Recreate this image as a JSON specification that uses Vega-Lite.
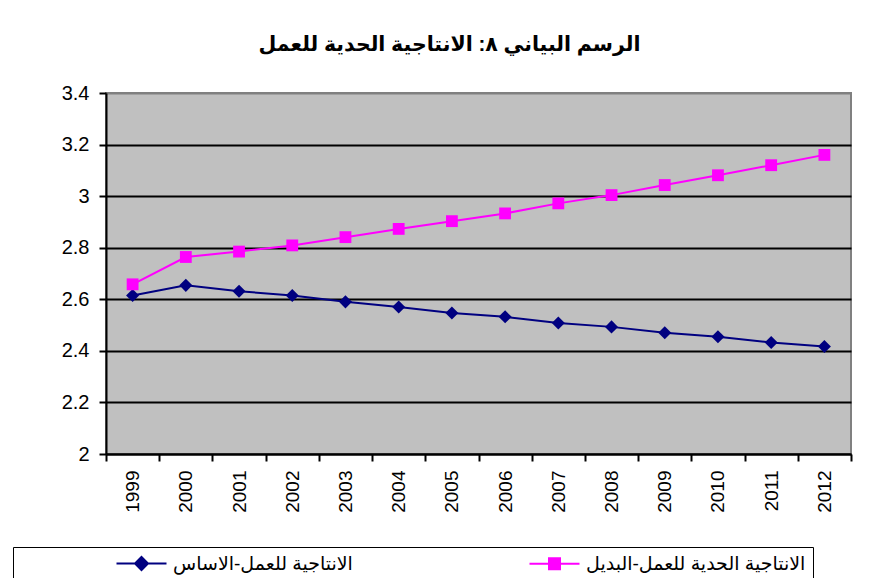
{
  "$schema": "https://vega.github.io/schema/vega-lite/v6.json",
  "autosize": {"type": "none"},
  "padding": {"left": 106, "top": 93, "right": 26, "bottom": 124},
  "width": 745,
  "height": 361,
  "background": "white",
  "title": {
    "text": "الرسم البياني ٨: الانتاجية الحدية للعمل",
    "font": "Liberation Sans, DejaVu Sans",
    "fontSize": 20.5,
    "fontWeight": "bold",
    "color": "black",
    "anchor": "middle",
    "dx": -29,
    "offset": 28
  },
  "config": {
    "view": {"fill": "#C0C0C0", "stroke": "#808080", "strokeWidth": 2},
    "font": "Liberation Sans, DejaVu Sans"
  },
  "data": {
    "values": [
      {"year": "1999", "series": "الانتاجية للعمل-الاساس", "value": 2.615},
      {"year": "2000", "series": "الانتاجية للعمل-الاساس", "value": 2.654},
      {"year": "2001", "series": "الانتاجية للعمل-الاساس", "value": 2.631},
      {"year": "2002", "series": "الانتاجية للعمل-الاساس", "value": 2.615},
      {"year": "2003", "series": "الانتاجية للعمل-الاساس", "value": 2.59},
      {"year": "2004", "series": "الانتاجية للعمل-الاساس", "value": 2.57},
      {"year": "2005", "series": "الانتاجية للعمل-الاساس", "value": 2.547},
      {"year": "2006", "series": "الانتاجية للعمل-الاساس", "value": 2.532},
      {"year": "2007", "series": "الانتاجية للعمل-الاساس", "value": 2.508},
      {"year": "2008", "series": "الانتاجية للعمل-الاساس", "value": 2.493},
      {"year": "2009", "series": "الانتاجية للعمل-الاساس", "value": 2.47},
      {"year": "2010", "series": "الانتاجية للعمل-الاساس", "value": 2.455},
      {"year": "2011", "series": "الانتاجية للعمل-الاساس", "value": 2.432},
      {"year": "2012", "series": "الانتاجية للعمل-الاساس", "value": 2.417},
      {"year": "1999", "series": "الانتاجية الحدية للعمل-البديل", "value": 2.658},
      {"year": "2000", "series": "الانتاجية الحدية للعمل-البديل", "value": 2.764},
      {"year": "2001", "series": "الانتاجية الحدية للعمل-البديل", "value": 2.785},
      {"year": "2002", "series": "الانتاجية الحدية للعمل-البديل", "value": 2.809},
      {"year": "2003", "series": "الانتاجية الحدية للعمل-البديل", "value": 2.841},
      {"year": "2004", "series": "الانتاجية الحدية للعمل-البديل", "value": 2.873},
      {"year": "2005", "series": "الانتاجية الحدية للعمل-البديل", "value": 2.903},
      {"year": "2006", "series": "الانتاجية الحدية للعمل-البديل", "value": 2.933},
      {"year": "2007", "series": "الانتاجية الحدية للعمل-البديل", "value": 2.972},
      {"year": "2008", "series": "الانتاجية الحدية للعمل-البديل", "value": 3.004},
      {"year": "2009", "series": "الانتاجية الحدية للعمل-البديل", "value": 3.043},
      {"year": "2010", "series": "الانتاجية الحدية للعمل-البديل", "value": 3.081},
      {"year": "2011", "series": "الانتاجية الحدية للعمل-البديل", "value": 3.12},
      {"year": "2012", "series": "الانتاجية الحدية للعمل-البديل", "value": 3.16}
    ]
  },
  "encoding": {
    "x": {
      "field": "year",
      "type": "ordinal",
      "scale": {"type": "band", "paddingInner": 0, "paddingOuter": 0},
      "axis": {
        "title": null,
        "labelAngle": 270,
        "labelFontSize": 19,
        "labelColor": "black",
        "labelPadding": 9,
        "tickBand": "extent",
        "tickColor": "black",
        "tickSize": 7,
        "tickWidth": 2,
        "domainColor": "black",
        "domainWidth": 2,
        "grid": false
      }
    },
    "y": {
      "field": "value",
      "type": "quantitative",
      "scale": {"domain": [2, 3.4], "nice": false, "zero": false},
      "axis": {
        "title": null,
        "values": [2, 2.2, 2.4, 2.6, 2.8, 3, 3.2, 3.4],
        "format": "~g",
        "labelFontSize": 20,
        "labelColor": "black",
        "labelPadding": 10,
        "tickColor": "black",
        "tickSize": 7,
        "tickWidth": 2,
        "domainColor": "black",
        "domainWidth": 2,
        "grid": true,
        "gridColor": {"condition": {"test": "datum.value >= 3.39", "value": "#808080"}, "value": "black"},
        "gridWidth": 2,
        "gridOpacity": 1
      }
    },
    "color": {
      "field": "series",
      "type": "nominal",
      "scale": {
        "domain": ["الانتاجية للعمل-الاساس", "الانتاجية الحدية للعمل-البديل"],
        "range": ["#000080", "#FF00FF"]
      },
      "legend": {
        "title": null,
        "orient": "none",
        "legendX": -93,
        "legendY": 454,
        "direction": "horizontal",
        "columns": 2,
        "columnPadding": 80,
        "padding": 7,
        "strokeColor": "black",
        "fillColor": "white",
        "labelFontSize": 19,
        "labelColor": "black",
        "labelLimit": 0,
        "labelOffset": 22,
        "symbolOffset": 112,
        "symbolSize": 100,
        "symbolStrokeWidth": 2,
        "symbolOpacity": 1,
        "encode": {
          "symbols": {
            "enter": {
              "shape": {"signal": "datum.index === 0 ? 'M-5,0H-1.3M1.3,0H5M0,-1.3L1.3,0L0,1.3L-1.3,0Z' : 'M-5,0H-1.1M1.1,0H5M-1.1,-1.1H1.1V1.1H-1.1Z'"},
              "stroke": {"signal": "datum.index === 0 ? '#000080' : '#FF00FF'"},
              "strokeOpacity": {"value": 1}
            },
            "update": {
              "shape": {"signal": "datum.index === 0 ? 'M-5,0H-1.3M1.3,0H5M0,-1.3L1.3,0L0,1.3L-1.3,0Z' : 'M-5,0H-1.1M1.1,0H5M-1.1,-1.1H1.1V1.1H-1.1Z'"},
              "fill": {"signal": "datum.index === 0 ? '#000080' : '#FF00FF'"},
              "stroke": {"signal": "datum.index === 0 ? '#000080' : '#FF00FF'"},
              "strokeOpacity": {"value": 1},
              "fillOpacity": {"value": 1},
              "strokeWidth": {"value": 2},
              "size": {"value": 100},
              "opacity": {"value": 1}
            }
          }
        }
      }
    }
  },
  "layer": [
    {"mark": {"type": "line", "strokeWidth": 2}},
    {
      "transform": [{"filter": "datum.series === 'الانتاجية للعمل-الاساس'"}],
      "mark": {"type": "point", "filled": true, "opacity": 1, "size": 170, "shape": "diamond"}
    },
    {
      "transform": [{"filter": "datum.series === 'الانتاجية الحدية للعمل-البديل'"}],
      "mark": {"type": "point", "filled": true, "opacity": 1, "size": 140, "shape": "square"}
    }
  ]
}
